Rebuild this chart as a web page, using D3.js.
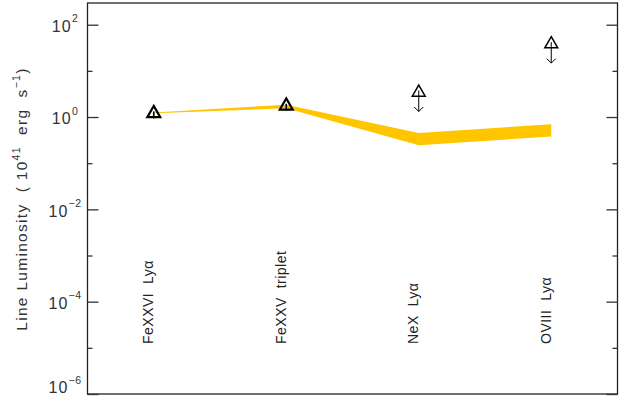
<!DOCTYPE html>
<html>
<head>
<meta charset="UTF-8">
<title>Line Luminosity</title>
<style>
    body { margin: 0; background: white; }
    svg { display: block; font-family: "Liberation Sans", Arial, sans-serif; }
</style>
</head>
<body>
<svg id="chart"></svg>
<script src="https://d3js.org/d3.v7.min.js"></script>
<script>
    // data (luminosity in 1e41 erg/s)
    let lines = ["FeXXVI  Ly\u03b1", "FeXXV  triplet", "NeX  Ly\u03b1", "OVIII  Ly\u03b1"];
    let measured = [1.2, 1.75, 3.4, 38];
    let isUpperLimit = [false, false, true, true];
    let bandLow = [1.2, 1.55, 0.245, 0.38];
    let bandHigh = [1.25, 1.85, 0.45, 0.70];
    let majorTicks = [1e-6, 1e-4, 1e-2, 1, 1e2];
    let tickExponents = ["\u22126", "\u22124", "\u22122", "0", "2"];
    let minorTicks = [1e-5, 1e-3, 1e-1, 10];

    let width = 627, height = 401;
    let mLeft = 87.5, mRight = 617.5, mTop = 3, mBottom = 394;

    let svg = d3.select("#chart")
        .attr("width", width)
        .attr("height", height);

    let x = d3.scaleLinear().domain([0.5, 4.5]).range([mLeft, mRight]);
    let y = d3.scaleLog().domain([1e-6, Math.pow(10, 2.47)]).range([mBottom, mTop]);

    // yellow band
    let band = lines.map((d, i) => ({ i: i + 1, lo: bandLow[i], hi: bandHigh[i] }));
    svg.append("path")
        .datum(band)
        .attr("fill", "#ffc600")
        .attr("d", d3.area()
            .x(d => x(d.i))
            .y0(d => y(d.lo))
            .y1(d => y(d.hi)));

    // frame
    svg.append("rect")
        .attr("x", mLeft).attr("y", mTop)
        .attr("width", mRight - mLeft).attr("height", mBottom - mTop)
        .attr("fill", "none")
        .attr("stroke", "#222")
        .attr("stroke-width", 1.3);

    // ticks on both sides, pointing inward
    let axL = svg.append("g").attr("transform", `translate(${mLeft},0)`)
        .call(d3.axisRight(y).tickValues(majorTicks).tickSize(11).tickSizeOuter(0).tickFormat(""));
    let axLm = svg.append("g").attr("transform", `translate(${mLeft},0)`)
        .call(d3.axisRight(y).tickValues(minorTicks).tickSize(5).tickSizeOuter(0).tickFormat(""));
    let axR = svg.append("g").attr("transform", `translate(${mRight},0)`)
        .call(d3.axisLeft(y).tickValues(majorTicks).tickSize(11).tickSizeOuter(0).tickFormat(""));
    let axRm = svg.append("g").attr("transform", `translate(${mRight},0)`)
        .call(d3.axisLeft(y).tickValues(minorTicks).tickSize(5).tickSizeOuter(0).tickFormat(""));
    [axL, axLm, axR, axRm].forEach(a => {
        a.select(".domain").remove();
        a.selectAll("line").attr("stroke", "#333").attr("stroke-width", 1.3);
    });

    // tick labels 10^n (lowest one nudged up so it stays inside the picture)
    let lab = svg.append("g").selectAll("text")
        .data(majorTicks)
        .enter()
        .append("text")
        .attr("x", 65)
        .attr("y", (d, i) => i == 0 ? y(d) - 1 : y(d) + 7.2)
        .attr("text-anchor", "middle")
        .attr("font-size", 16)
        .attr("letter-spacing", 1.2)
        .attr("fill", "#333");
    lab.append("tspan").text("10");
    lab.append("tspan")
        .attr("dy", -9.5)
        .attr("font-size", 10.5)
        .attr("letter-spacing", 0.5)
        .text((d, i) => tickExponents[i]);

    // y axis title
    let title = svg.append("text")
        .attr("transform", `translate(26.5,199) rotate(-90)`)
        .attr("text-anchor", "middle")
        .attr("font-size", 15.5)
        .attr("letter-spacing", 1.3)
        .attr("fill", "#333")
        .attr("style", "white-space: pre");
    title.append("tspan").text("Line Luminosity  ( 10");
    title.append("tspan").attr("dy", -7).attr("font-size", 10.5).text("41");
    title.append("tspan").attr("dy", 7).text("  erg  s");
    title.append("tspan").attr("dy", -7).attr("font-size", 10.5).text("\u22121");
    title.append("tspan").attr("dy", 7).text(")");

    // category labels, vertical
    svg.append("g").selectAll("text")
        .data(lines)
        .enter()
        .append("text")
        .attr("transform", (d, i) => `translate(${x(i + 1) - 0.5},344) rotate(-90)`)
        .attr("font-size", 14)
        .attr("letter-spacing", 0.5)
        .attr("fill", "#222")
        .attr("style", "white-space: pre")
        .text(d => d);

    // markers
    let tri = d3.symbol(d3.symbolTriangle, 72);
    let mk = svg.append("g").selectAll("g")
        .data(measured)
        .enter()
        .append("g")
        .attr("transform", (d, i) => `translate(${x(i + 1)},${y(d)})`);
    mk.append("path")
        .attr("d", tri)
        .attr("fill", "none")
        .attr("stroke", "black")
        .attr("stroke-width", (d, i) => isUpperLimit[i] ? 1.5 : 2.2);
    mk.append("line")
        .attr("x1", 0).attr("x2", 0)
        .attr("y1", -2)
        .attr("y2", (d, i) => isUpperLimit[i] ? 19 : 5)
        .attr("stroke", "black")
        .attr("stroke-width", (d, i) => isUpperLimit[i] ? 1 : 1.6);
    mk.filter((d, i) => isUpperLimit[i])
        .append("path")
        .attr("d", "M-4.5,14.5 L0,19 L4.5,14.5")
        .attr("fill", "none")
        .attr("stroke", "black")
        .attr("stroke-width", 1);
</script>
</body>
</html>
